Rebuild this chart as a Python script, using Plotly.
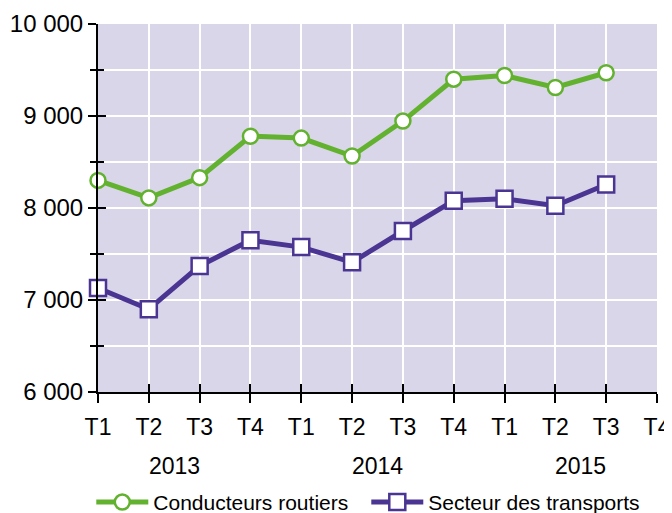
import plotly.graph_objects as go

quarters = ["T1", "T2", "T3", "T4", "T1", "T2", "T3", "T4", "T1", "T2", "T3", "T4"]
years = ["2013", "2014", "2015"]
conducteurs = [8300, 8110, 8330, 8780, 8760, 8565, 8945, 9400, 9440, 9310, 9470]
transports = [7130, 6900, 7370, 7650, 7575, 7410, 7750, 8080, 8100, 8025, 8255]
yticks = [6000, 7000, 8000, 9000, 10000]
ytick_text = ["6 000", "7 000", "8 000", "9 000", "10 000"]

GREEN = "#62b22f"
PURPLE = "#4a3592"
BG = "#d9d6e9"
FONT = "Liberation Sans, Arial, sans-serif"

xpos = list(range(len(quarters)))

fig = go.Figure()
fig.add_trace(go.Scatter(
    x=xpos[:len(conducteurs)], y=conducteurs, mode="lines+markers",
    name="Conducteurs routiers",
    line=dict(color=GREEN, width=5),
    marker=dict(symbol="circle", size=15, color="white", line=dict(color=GREEN, width=2.5)),
    cliponaxis=False,
))
fig.add_trace(go.Scatter(
    x=xpos[:len(transports)], y=transports, mode="lines+markers",
    name="Secteur des transports",
    line=dict(color=PURPLE, width=5),
    marker=dict(symbol="square", size=16, color="white", line=dict(color=PURPLE, width=2.5)),
    cliponaxis=False,
))
# empty trace so the overlay axes (inner half of the crossing ticks) are drawn
fig.add_trace(go.Scatter(x=[None], y=[None], xaxis="x2", yaxis="y2",
                         showlegend=False, hoverinfo="skip"))

for i, yr in enumerate(years):
    fig.add_annotation(x=1.5 + 4 * i, y=-0.200, xref="x", yref="paper", yanchor="middle",
                       text=yr, showarrow=False, font=dict(size=23, color="black", family=FONT))

fig.update_layout(
    width=664, height=505,
    margin=dict(l=90, r=15, t=16, b=121, autoexpand=False),
    paper_bgcolor="white", plot_bgcolor=BG,
    font=dict(family=FONT, size=21, color="black"),
    showlegend=True,
    legend=dict(orientation="h", x=-0.012, xanchor="left", y=-0.30, yanchor="middle",
                font=dict(size=21, family=FONT), itemwidth=52, tracegroupgap=0,
                entrywidth=208, entrywidthmode="pixels",
                bgcolor="rgba(0,0,0,0)"),
    xaxis=dict(
        range=[0, 11], tickmode="array", tickvals=xpos, ticktext=quarters,
        tickfont=dict(size=23, family=FONT),
        showgrid=True, gridcolor="white", gridwidth=2,
        showline=True, linecolor="black", linewidth=2,
        ticks="outside", ticklen=9, tickwidth=2, tickcolor="black",
        ticklabelstandoff=4, zeroline=False, automargin=False,
    ),
    yaxis=dict(
        range=[6000, 10000], tickmode="array", tickvals=yticks, ticktext=ytick_text,
        tickfont=dict(size=24, family=FONT),
        showgrid=True, gridcolor="white", gridwidth=2,
        showline=True, linecolor="black", linewidth=2,
        ticks="outside", ticklen=8, tickwidth=2, tickcolor="black",
        minor=dict(dtick=500, tick0=6000, ticks="outside", ticklen=6, tickwidth=2,
                   tickcolor="black", showgrid=True, gridcolor="white", gridwidth=2),
        zeroline=False, automargin=False,
    ),
    xaxis2=dict(
        overlaying="x", anchor="y2", range=[0, 11], tickmode="array", tickvals=xpos,
        showticklabels=False, showgrid=False, showline=False, zeroline=False,
        ticks="inside", ticklen=8, tickwidth=2, tickcolor="black", side="bottom",
    ),
    yaxis2=dict(
        overlaying="y", anchor="x2", range=[6000, 10000], tickmode="array", tickvals=yticks,
        showticklabels=False, showgrid=False, showline=False, zeroline=False,
        ticks="inside", ticklen=8, tickwidth=2, tickcolor="black", side="left",
        minor=dict(dtick=500, tick0=6000, ticks="inside", ticklen=6, tickwidth=2,
                   tickcolor="black"),
    ),
)

fig.write_html("out.html")
